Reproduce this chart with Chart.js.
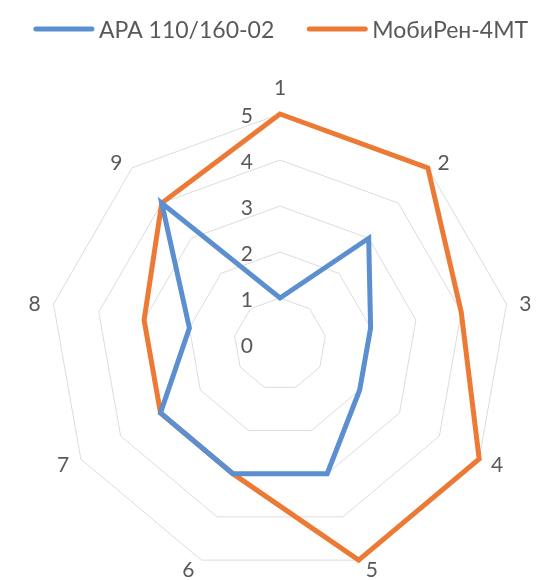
<!DOCTYPE html>
<html>
<head>
<meta charset="utf-8">
<script src="https://cdn.jsdelivr.net/npm/chart.js@4"></script>
<style>
  html, body { margin: 0; padding: 0; background: #fff; overflow: hidden; }
  #wrap { width: 546px; height: 580px; }
</style>
</head>
<body>
<div id="wrap"><canvas id="grafica"></canvas></div>
<script>
const categories = ["1", "2", "3", "4", "5", "6", "7", "8", "9"];
const apaValues = [1, 3, 2, 2, 3, 3, 3, 2, 4];
const mobirenValues = [5, 5, 4, 5, 5, 3, 3, 3, 4];
const tickValues = [0, 1, 2, 3, 4, 5];

const textColor = "#595959";
const fontFamily = "Lato, 'Open Sans', sans-serif";

// Excel style labels: legend with line samples, ticks left of the vertical axis,
// category labels next to the outer ring
const excelLabels = {
    id: "excelLabels",
    afterDraw(chart) {
        const scale = chart.scales.r;
        const c = chart.ctx;
        c.save();
        c.fillStyle = textColor;

        // legend
        c.font = "23px " + fontFamily;
        c.textAlign = "left";
        c.textBaseline = "alphabetic";
        const sets = chart.data.datasets;
        const widths = sets.map(ds => 60 + 5 + c.measureText(ds.label).width);
        const total = widths.reduce((a, b) => a + b, 0) + 33 * (sets.length - 1);
        let x = scale.xCenter + 1 - total / 2;
        sets.forEach((ds, i) => {
            c.strokeStyle = ds.borderColor;
            c.lineWidth = 5;
            c.lineCap = "round";
            c.beginPath();
            c.moveTo(x + 2, 29);
            c.lineTo(x + 58, 29);
            c.stroke();
            c.fillText(ds.label, x + 65, 38);
            x += widths[i] + 33;
        });

        c.font = "21px " + fontFamily;
        c.textBaseline = "middle";
        c.textAlign = "right";
        tickValues.forEach(v => {
            const d = scale.getDistanceFromCenterForValue(v);
            c.fillText(String(v), scale.xCenter - 27, scale.yCenter - d + 2);
        });

        c.textAlign = "center";
        categories.forEach((lab, i) => {
            const a = scale.getIndexAngle(i);
            const p = scale.getPointPosition(i, scale.drawingArea);
            const s = Math.sin(a), co = Math.cos(a);
            let dx, dy;
            if (Math.abs(s) < 0.01) {
                dx = 0;
                dy = co > 0 ? -28 : 28;
            } else {
                dx = Math.sign(s) * (10 + 9 * Math.abs(s));
                dy = -co * 9;
            }
            c.fillText(lab, p.x + dx, p.y + dy + 2);
        });
        c.restore();
    }
};

const ctx = document.getElementById("grafica").getContext("2d");
const grafica = new Chart(ctx, {
    type: "radar",
    data: {
        labels: categories,
        datasets: [{
            label: "APA 110/160-02",
            data: apaValues,
            borderColor: "#5b8fcf",
            borderWidth: 5,
            fill: false,
            pointRadius: 0
        }, {
            label: "МобиРен-4МТ",
            data: mobirenValues,
            borderColor: "#ec7a35",
            borderWidth: 5,
            fill: false,
            pointRadius: 0
        }]
    },
    options: {
        responsive: true,
        maintainAspectRatio: false,
        animation: false,
        layout: { padding: { top: 114, bottom: 6, left: 14, right: 0 } },
        plugins: {
            legend: { display: false },
            tooltip: { enabled: false }
        },
        scales: {
            r: {
                min: 0,
                max: 5,
                ticks: { stepSize: 1, display: false },
                grid: { color: "#dcdcdc", lineWidth: 1 },
                angleLines: { display: false },
                pointLabels: { display: false }
            }
        }
    },
    plugins: [excelLabels]
});
</script>
</body>
</html>
